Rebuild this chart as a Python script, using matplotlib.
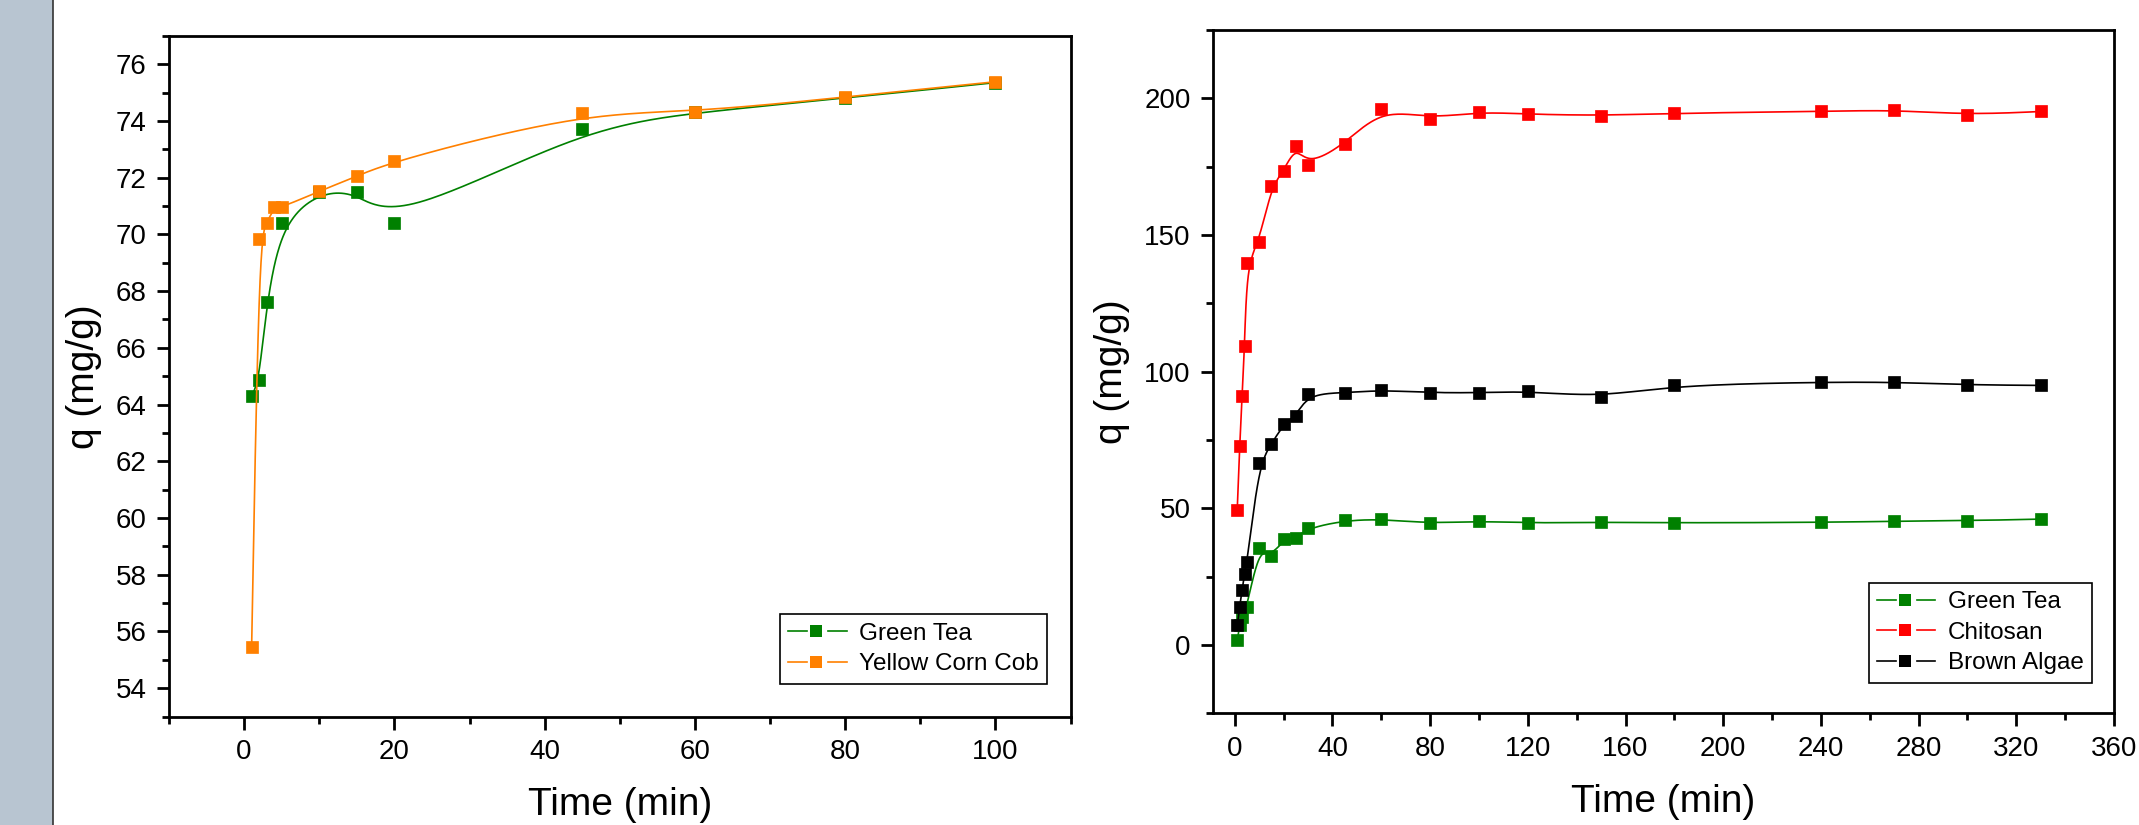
import numpy as np
import matplotlib
matplotlib.use("Agg")
import matplotlib.pyplot as plt
from matplotlib.ticker import MultipleLocator
from matplotlib.patches import Rectangle
from matplotlib.lines import Line2D
from matplotlib.legend_handler import HandlerBase

plt.rcParams['font.family'] = ['Liberation Sans', 'DejaVu Sans']

# --- left panel data ---
t_tea_l = [1, 2, 3, 5, 10, 15, 20, 45, 60, 80, 100]
q_tea_l = [64.3, 64.85, 67.6, 70.4, 71.5, 71.5, 70.4, 73.72, 74.3, 74.8, 75.35]
t_corn = [1, 2, 3, 4, 5, 10, 15, 20, 45, 60, 80, 100]
q_corn = [55.45, 69.85, 70.4, 70.95, 70.95, 71.52, 72.05, 72.6, 74.28, 74.31, 74.84, 75.38]

# --- right panel data ---
t_tea_r = [1, 2, 3, 5, 10, 15, 20, 25, 30, 45, 60, 80, 100, 120, 150, 180, 240, 270, 300, 330]
q_tea_r = [1.8, 7.3, 10.3, 14.0, 35.7, 32.5, 38.7, 39.3, 42.8, 45.6, 46.1, 44.5, 45.4, 44.6,
           45.0, 44.7, 44.9, 45.3, 45.5, 46.1]
t_all = [1, 2, 3, 4, 5, 10, 15, 20, 25, 30, 45, 60, 80, 100, 120, 150, 180, 240, 270, 300, 330]
q_chit = [49.6, 73.0, 91.2, 109.4, 139.9, 147.6, 167.8, 173.4, 182.6, 175.5, 183.2, 196.2,
          192.6, 195.1, 194.2, 193.7, 194.6, 195.2, 195.8, 194.0, 195.2]
q_algae = [7.2, 14.1, 20.2, 26.1, 30.4, 66.5, 73.6, 80.8, 83.7, 91.9, 92.3, 93.3, 92.3, 92.3,
           92.9, 90.7, 95.1, 96.2, 96.2, 95.2, 95.0]

GREEN = '#008000'
ORANGE = '#FF8000'
RED = '#FF0000'
BLACK = '#000000'


def bspline(xs, ys, n=40):
    # uniform cubic B-spline with data points as control points (Origin "B-Spline" look)
    px = np.r_[[xs[0]] * 2, xs, [xs[-1]] * 2].astype(float)
    py = np.r_[[ys[0]] * 2, ys, [ys[-1]] * 2].astype(float)
    u = np.linspace(0, 1, n, endpoint=False)
    b0 = (1 - u) ** 3 / 6
    b1 = (3 * u ** 3 - 6 * u ** 2 + 4) / 6
    b2 = (-3 * u ** 3 + 3 * u ** 2 + 3 * u + 1) / 6
    b3 = u ** 3 / 6
    cx, cy = [], []
    for i in range(len(px) - 3):
        cx.append(b0 * px[i] + b1 * px[i + 1] + b2 * px[i + 2] + b3 * px[i + 3])
        cy.append(b0 * py[i] + b1 * py[i + 1] + b2 * py[i + 2] + b3 * py[i + 3])
    cx.append([xs[-1]])
    cy.append([ys[-1]])
    return np.concatenate(cx), np.concatenate(cy)


class OriginHandle(HandlerBase):
    # line - marker - gap - line, like Origin legends
    def create_artists(self, legend, orig, xdescent, ydescent, width, height, fontsize, trans):
        c = orig.get_color()
        y = height / 2 - ydescent
        x0 = -xdescent
        l1 = Line2D([x0, x0 + 0.32 * width], [y, y], color=c, lw=1.2)
        mk = Line2D([x0 + 0.48 * width], [y], ls='none', marker='s', ms=9, color=c, mew=0)
        l2 = Line2D([x0 + 0.68 * width, x0 + width], [y, y], color=c, lw=1.2)
        for a in (l1, mk, l2):
            a.set_transform(trans)
        return [l1, mk, l2]


def series(ax, xs, ys, color, label):
    sx, sy = bspline(xs, ys)
    ax.plot(sx, sy, color=color, lw=1.2)
    ax.plot(xs, ys, ls='none', marker='s', ms=9, color=color, mec=color, mew=0.5)
    ax.plot([], [], color=color, lw=1.2, marker='s', ms=9, label=label)


def style(ax, xmaj, xmin, ymaj, ymin):
    for s in ax.spines.values():
        s.set_linewidth(2)
    ax.xaxis.set_major_locator(MultipleLocator(xmaj))
    ax.xaxis.set_minor_locator(MultipleLocator(xmin))
    ax.yaxis.set_major_locator(MultipleLocator(ymaj))
    ax.yaxis.set_minor_locator(MultipleLocator(ymin))
    ax.tick_params(which='both', direction='out', width=2, top=False, right=False,
                   labelsize=20, pad=7)
    ax.tick_params(which='major', length=9)
    ax.tick_params(which='minor', length=5)
    ax.set_xlabel('Time (min)', fontsize=28, labelpad=16)
    ax.set_ylabel('q (mg/g)', fontsize=28, labelpad=10)


def legend(ax, anchor):
    handles, labels = ax.get_legend_handles_labels()
    leg = ax.legend(handles, labels, loc='lower right', bbox_to_anchor=anchor,
                    borderaxespad=0, fontsize=17.5, fancybox=False, edgecolor='black',
                    handlelength=2.4, handletextpad=0.5, labelspacing=0.35, borderpad=0.35,
                    framealpha=1, handler_map={Line2D: OriginHandle()})
    leg.get_frame().set_linewidth(1.2)


fig = plt.figure(figsize=(21.39, 8.25), dpi=100)
fig.patch.set_facecolor('white')
fig.patches.append(Rectangle((0, 0), 53 / 2139, 1, transform=fig.transFigure,
                             facecolor='#B8C5D1', edgecolor='none', zorder=0))
fig.add_artist(Line2D([53 / 2139, 53 / 2139], [0, 1], color='#333333', lw=1.2))

ax1 = fig.add_axes([0.0790, 0.1314, 0.4215, 0.8252])
series(ax1, t_tea_l, q_tea_l, GREEN, 'Green Tea')
series(ax1, t_corn, q_corn, ORANGE, 'Yellow Corn Cob')
ax1.set_xlim(-10, 110)
ax1.set_ylim(53, 77)
style(ax1, 20, 10, 2, 1)
legend(ax1, (0.974, 0.048))

ax2 = fig.add_axes([0.5670, 0.1352, 0.4213, 0.8284])
series(ax2, t_tea_r, q_tea_r, GREEN, 'Green Tea')
series(ax2, t_all, q_chit, RED, 'Chitosan')
series(ax2, t_all, q_algae, BLACK, 'Brown Algae')
ax2.set_xlim(-9, 360)
ax2.set_ylim(-25, 225)
style(ax2, 40, 20, 50, 25)
legend(ax2, (0.9756, 0.045))

fig.savefig('out.png', dpi=100)
